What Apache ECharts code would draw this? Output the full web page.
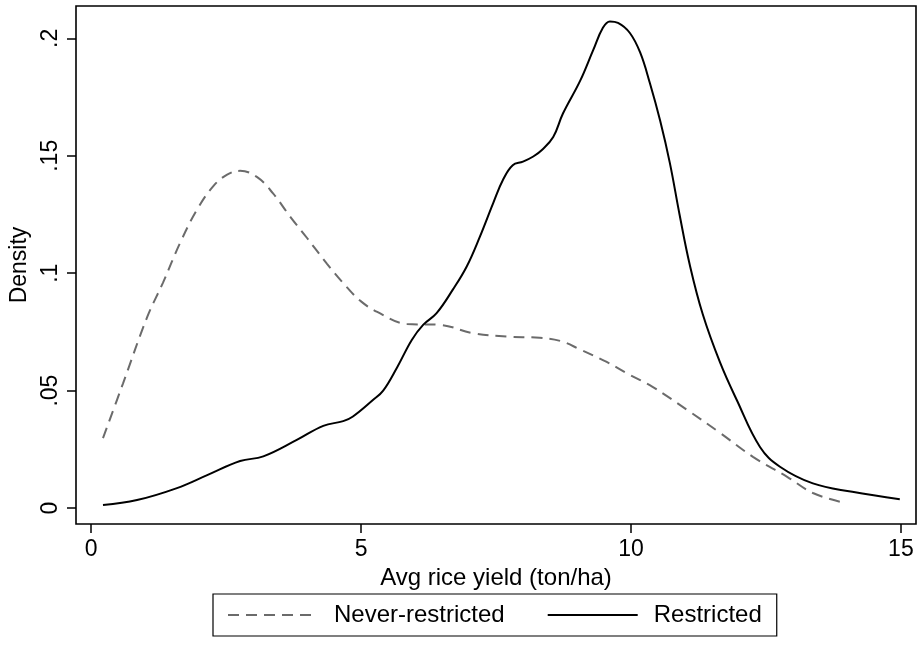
<!DOCTYPE html>
<html lang="en">

<head>
    <meta charset="UTF-8">
    <title>Rice yield density</title>
    <script type="text/javascript" src="https://cdn.jsdelivr.net/npm/echarts@6/dist/echarts.min.js"></script>
    <style>
        body {
            margin: 0;
            background-color: #fff;
            overflow: hidden;
        }
    </style>
</head>

<body>
    <div style="width: 920px; height: 650px" id="container"></div>
</body>
<script>
    // kernel density, yield in ton/ha
    let neverX = [0.22, 0.59, 1.04, 1.33, 1.65, 1.96, 2.26, 2.52, 2.76, 3.07, 3.37, 3.69, 4.0, 4.37, 4.74, 5.0, 5.3,
        5.85, 6.46, 7.07, 7.7, 8.31, 8.7, 9.06, 9.55, 9.98, 10.4, 11.04, 11.65, 12.26, 12.9, 13.37, 13.87];
    let neverY = [0.0298, 0.053, 0.0814, 0.0959, 0.113, 0.127, 0.137, 0.142, 0.1436, 0.141, 0.134, 0.124, 0.115, 0.104,
        0.094, 0.088, 0.0835, 0.0784, 0.078, 0.0745, 0.073, 0.0725, 0.0711, 0.0675, 0.0622, 0.0567, 0.0516, 0.0418,
        0.032, 0.0218, 0.0132, 0.0064, 0.0027];

    let restrX = [0.22, 0.85, 1.59, 2.15, 2.76, 3.19, 3.81, 4.3, 4.67, 4.85, 5.22, 5.41, 5.67, 5.94, 6.15, 6.4, 6.7,
        6.96, 7.2, 7.45, 7.63, 7.81, 8.0, 8.19, 8.35, 8.56, 8.74, 9.06, 9.3, 9.48, 9.61, 9.76, 9.98, 10.17, 10.35,
        10.54, 10.72, 10.9, 11.09, 11.33, 11.65, 11.96, 12.39, 12.76, 13.37, 14.1, 14.98];
    let restrY = [0.0013, 0.0034, 0.0085, 0.014, 0.02, 0.022, 0.029, 0.035, 0.037, 0.039, 0.046, 0.05, 0.06, 0.0716,
        0.078, 0.083, 0.093, 0.103, 0.1155, 0.13, 0.1398, 0.146, 0.1475, 0.1497, 0.1525, 0.158, 0.168, 0.182, 0.195,
        0.2045, 0.2072, 0.2066, 0.2023, 0.194, 0.181, 0.165, 0.147, 0.125, 0.1035, 0.0825, 0.062, 0.046, 0.026,
        0.0176, 0.0105, 0.0069, 0.0037];

    let seriesNames = ['Never-restricted', 'Restricted'];
    let xTicks = [0, 5, 10, 15];
    let yTicks = [0, 0.05, 0.1, 0.15, 0.2];
    let yTickLabels = ['0', '.05', '.1', '.15', '.2'];

    let font = '"Liberation Sans", Arial, Helvetica, sans-serif';

    let pairs = function (xs, ys) {
        return xs.map((x, i) => [x, ys[i]]);
    }

    var dom = document.getElementById("container");
    var myChart = echarts.init(dom);

    var option = {
        backgroundColor: '#fff',
        animation: false,
        grid: {
            left: 76,
            right: 4,
            top: 6,
            bottom: 126,
            show: true,
            borderColor: '#000',
            borderWidth: 1.6,
            containLabel: false
        },
        legend: {
            data: seriesNames,
            left: 213,
            top: 594,
            orient: 'horizontal',
            padding: [9, 15, 9, 14],
            borderColor: '#000',
            borderWidth: 1.2,
            itemWidth: 90,
            itemHeight: 24,
            itemGap: 42,
            itemStyle: {
                color: 'transparent',
                borderWidth: 0,
                opacity: 0
            },
            textStyle: {
                fontFamily: font,
                fontSize: 24,
                color: '#000',
                padding: [0, 0, 0, 11]
            }
        },
        xAxis: {
            type: 'value',
            min: -0.28,
            max: 15.28,
            name: 'Avg rice yield (ton/ha)',
            nameLocation: 'middle',
            nameGap: 41,
            nameTextStyle: {
                fontFamily: font,
                fontSize: 24,
                color: '#000'
            },
            axisLine: { show: false, onZero: false },
            axisTick: {
                show: true,
                length: 9,
                customValues: xTicks,
                lineStyle: { color: '#000', width: 1.5 }
            },
            axisLabel: {
                customValues: xTicks,
                margin: 14,
                fontFamily: font,
                fontSize: 23,
                color: '#000'
            },
            splitLine: { show: false }
        },
        yAxis: {
            type: 'value',
            min: -0.0068,
            max: 0.2138,
            name: 'Density',
            nameLocation: 'middle',
            nameGap: 44,
            nameTextStyle: {
                fontFamily: font,
                fontSize: 23,
                color: '#000'
            },
            axisLine: { show: false, onZero: false },
            axisTick: {
                show: true,
                length: 9,
                customValues: yTicks,
                lineStyle: { color: '#000', width: 1.5 }
            },
            axisLabel: {
                customValues: yTicks,
                rotate: 90,
                margin: 14,
                fontFamily: font,
                fontSize: 23,
                color: '#000',
                formatter: function (v) {
                    let i = yTicks.findIndex(t => Math.abs(t - v) < 1e-9);
                    return i >= 0 ? yTickLabels[i] : '';
                }
            },
            splitLine: { show: false }
        },
        series: [{
            name: seriesNames[0],
            type: 'line',
            data: pairs(neverX, neverY),
            smooth: 0.4,
            symbol: 'none',
            lineStyle: {
                color: '#6b6b6b',
                width: 2,
                type: [11, 7]
            },
            itemStyle: { color: '#6b6b6b' }
        }, {
            name: seriesNames[1],
            type: 'line',
            data: pairs(restrX, restrY),
            smooth: 0.4,
            symbol: 'none',
            lineStyle: {
                color: '#000',
                width: 2,
                type: 'solid'
            },
            itemStyle: { color: '#000' }
        }]
    };
    if (option && typeof option === 'object') {
        myChart.setOption(option);
    }
</script>

</html>
